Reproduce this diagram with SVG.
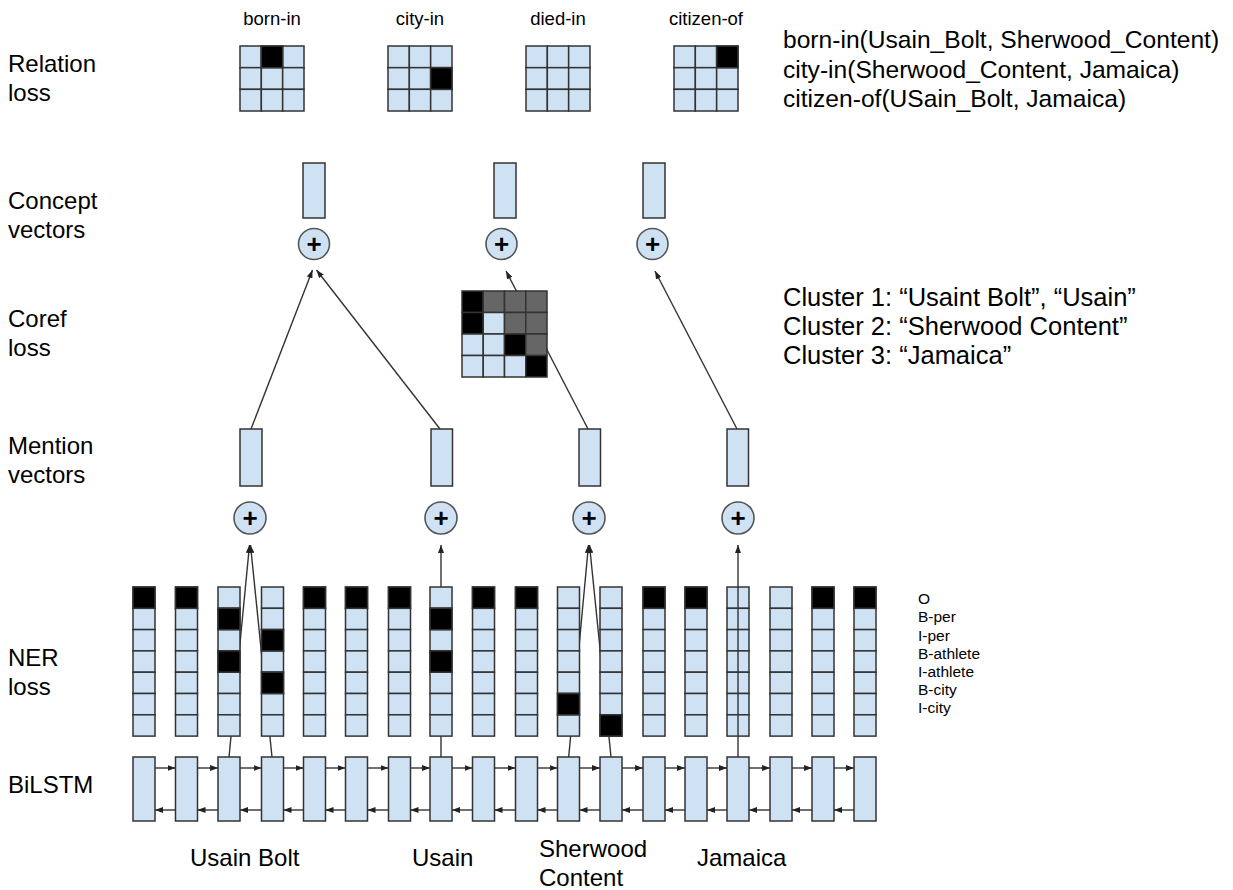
<svg xmlns="http://www.w3.org/2000/svg" xmlns:xlink="http://www.w3.org/1999/xlink" width="1233" height="890" viewBox="0 0 1233 890">
<style>
text{font-family:"Liberation Sans",Arial,sans-serif;fill:#000}
.lbl{font-size:24px}
.rt{font-size:24.6px}
.cl{font-size:25.5px}
.rel{font-size:18.5px;text-anchor:middle}
.tag{font-size:15.5px}
.c{fill:#cfe2f3;stroke:#333;stroke-width:1.5}
.k{fill:#000;stroke:#333;stroke-width:1.5}
.g{fill:#666;stroke:#333;stroke-width:1.5}
.pc{fill:#cfe2f3;stroke:#555;stroke-width:1.6}
.pt{font-size:26px;font-weight:bold;text-anchor:middle}
.ln{stroke:#333;stroke-width:1.4;fill:none}
.ar{stroke:#333;stroke-width:1.4;fill:none;marker-end:url(#ah)}
</style>
<defs>
<marker id="ah" markerUnits="userSpaceOnUse" markerWidth="8" markerHeight="6" refX="8" refY="3" orient="auto">
<path d="M0,0 L8,3 L0,6 z" fill="#222"/>
</marker>
<g id="ner">
<rect class="c" x="0" y="587" width="22" height="21.3"/>
<rect class="c" x="0" y="608.3" width="22" height="21.3"/>
<rect class="c" x="0" y="629.6" width="22" height="21.3"/>
<rect class="c" x="0" y="650.9" width="22" height="21.3"/>
<rect class="c" x="0" y="672.2" width="22" height="21.3"/>
<rect class="c" x="0" y="693.5" width="22" height="21.3"/>
<rect class="c" x="0" y="714.8" width="22" height="21.3"/>
</g>
<g id="g3">
<rect class="c" x="0" y="0" width="21.33" height="21.67"/>
<rect class="c" x="21.33" y="0" width="21.33" height="21.67"/>
<rect class="c" x="42.67" y="0" width="21.33" height="21.67"/>
<rect class="c" x="0" y="21.67" width="21.33" height="21.67"/>
<rect class="c" x="21.33" y="21.67" width="21.33" height="21.67"/>
<rect class="c" x="42.67" y="21.67" width="21.33" height="21.67"/>
<rect class="c" x="0" y="43.33" width="21.33" height="21.67"/>
<rect class="c" x="21.33" y="43.33" width="21.33" height="21.67"/>
<rect class="c" x="42.67" y="43.33" width="21.33" height="21.67"/>
</g>
</defs>
<rect width="1233" height="890" fill="#fff"/>

<g id="side-labels">
<text class="lbl" x="8" y="72">Relation</text>
<text class="lbl" x="8" y="101">loss</text>
<text class="lbl" x="8" y="209">Concept</text>
<text class="lbl" x="8" y="238">vectors</text>
<text class="lbl" x="8" y="327">Coref</text>
<text class="lbl" x="8" y="356">loss</text>
<text class="lbl" x="8" y="454">Mention</text>
<text class="lbl" x="8" y="483">vectors</text>
<text class="lbl" x="8" y="666">NER</text>
<text class="lbl" x="8" y="695">loss</text>
<text class="lbl" x="8" y="793">BiLSTM</text>
</g>

<g id="connectors">
<line class="ar" x1="229" y1="757" x2="249.5" y2="545"/>
<line class="ar" x1="272" y1="757" x2="250.5" y2="545"/>
<line class="ar" x1="441" y1="757" x2="441" y2="545"/>
<line class="ar" x1="568.7" y1="757" x2="588.5" y2="545"/>
<line class="ar" x1="611" y1="757" x2="589.5" y2="545"/>
<line class="ar" x1="251" y1="429" x2="312.5" y2="270"/>
<line class="ar" x1="440" y1="429" x2="316.5" y2="270"/>
<line class="ar" x1="588" y1="429" x2="506" y2="271"/>
<line class="ar" x1="737" y1="429" x2="655" y2="271"/>
<g id="bilstm-arrows">
<line class="ar" x1="155" y1="768" x2="175.5" y2="768"/><line class="ar" x1="175.5" y1="810" x2="155" y2="810"/>
<line class="ar" x1="197.5" y1="768" x2="218" y2="768"/><line class="ar" x1="218" y1="810" x2="197.5" y2="810"/>
<line class="ar" x1="240" y1="768" x2="261.5" y2="768"/><line class="ar" x1="261.5" y1="810" x2="240" y2="810"/>
<line class="ar" x1="283.5" y1="768" x2="303.5" y2="768"/><line class="ar" x1="303.5" y1="810" x2="283.5" y2="810"/>
<line class="ar" x1="325.5" y1="768" x2="345.5" y2="768"/><line class="ar" x1="345.5" y1="810" x2="325.5" y2="810"/>
<line class="ar" x1="367.5" y1="768" x2="388.5" y2="768"/><line class="ar" x1="388.5" y1="810" x2="367.5" y2="810"/>
<line class="ar" x1="410.5" y1="768" x2="430" y2="768"/><line class="ar" x1="430" y1="810" x2="410.5" y2="810"/>
<line class="ar" x1="452" y1="768" x2="472.5" y2="768"/><line class="ar" x1="472.5" y1="810" x2="452" y2="810"/>
<line class="ar" x1="494.5" y1="768" x2="515.5" y2="768"/><line class="ar" x1="515.5" y1="810" x2="494.5" y2="810"/>
<line class="ar" x1="537.5" y1="768" x2="557.5" y2="768"/><line class="ar" x1="557.5" y1="810" x2="537.5" y2="810"/>
<line class="ar" x1="579.5" y1="768" x2="600" y2="768"/><line class="ar" x1="600" y1="810" x2="579.5" y2="810"/>
<line class="ar" x1="622" y1="768" x2="643" y2="768"/><line class="ar" x1="643" y1="810" x2="622" y2="810"/>
<line class="ar" x1="665" y1="768" x2="685" y2="768"/><line class="ar" x1="685" y1="810" x2="665" y2="810"/>
<line class="ar" x1="707" y1="768" x2="727" y2="768"/><line class="ar" x1="727" y1="810" x2="707" y2="810"/>
<line class="ar" x1="749" y1="768" x2="770" y2="768"/><line class="ar" x1="770" y1="810" x2="749" y2="810"/>
<line class="ar" x1="792" y1="768" x2="812" y2="768"/><line class="ar" x1="812" y1="810" x2="792" y2="810"/>
<line class="ar" x1="834" y1="768" x2="854" y2="768"/><line class="ar" x1="854" y1="810" x2="834" y2="810"/>
</g>
</g>

<g id="relation-grids">
<g id="rel-born-in"><text class="rel" x="272" y="25">born-in</text><use xlink:href="#g3" x="240" y="46"/><rect class="k" x="261.33" y="46" width="21.33" height="21.67"/></g>
<g id="rel-city-in"><text class="rel" x="420" y="25">city-in</text><use xlink:href="#g3" x="388" y="46"/><rect class="k" x="430.67" y="67.67" width="21.33" height="21.67"/></g>
<g id="rel-died-in"><text class="rel" x="558" y="25">died-in</text><use xlink:href="#g3" x="526" y="46"/></g>
<g id="rel-citizen-of"><text class="rel" x="706" y="25">citizen-of</text><use xlink:href="#g3" x="674" y="46"/><rect class="k" x="716.67" y="46" width="21.33" height="21.67"/></g>
</g>

<g id="relation-text">
<text class="rt" x="783" y="48">born-in(Usain_Bolt, Sherwood_Content)</text>
<text class="rt" x="783" y="78">city-in(Sherwood_Content, Jamaica)</text>
<text class="rt" x="783" y="107">citizen-of(USain_Bolt, Jamaica)</text>
</g>

<g id="concept-vectors">
<g id="concept-1"><rect class="c" x="303" y="163" width="22" height="55"/><circle class="pc" cx="314" cy="244" r="15.5"/><text class="pt" x="314" y="253">+</text></g>
<g id="concept-2"><rect class="c" x="494" y="163" width="22" height="55"/><circle class="pc" cx="501.5" cy="244" r="15.5"/><text class="pt" x="501.5" y="253">+</text></g>
<g id="concept-3"><rect class="c" x="643" y="163" width="22" height="55"/><circle class="pc" cx="652.5" cy="244" r="15.5"/><text class="pt" x="652.5" y="253">+</text></g>
</g>

<g id="coref-matrix">
<rect class="k" x="462" y="291" width="21.25" height="21.5"/>
<rect class="g" x="483.25" y="291" width="21.25" height="21.5"/>
<rect class="g" x="504.5" y="291" width="21.25" height="21.5"/>
<rect class="g" x="525.75" y="291" width="21.25" height="21.5"/>
<rect class="k" x="462" y="312.5" width="21.25" height="21.5"/>
<rect class="c" x="483.25" y="312.5" width="21.25" height="21.5"/>
<rect class="g" x="504.5" y="312.5" width="21.25" height="21.5"/>
<rect class="g" x="525.75" y="312.5" width="21.25" height="21.5"/>
<rect class="c" x="462" y="334" width="21.25" height="21.5"/>
<rect class="c" x="483.25" y="334" width="21.25" height="21.5"/>
<rect class="k" x="504.5" y="334" width="21.25" height="21.5"/>
<rect class="g" x="525.75" y="334" width="21.25" height="21.5"/>
<rect class="c" x="462" y="355.5" width="21.25" height="21.5"/>
<rect class="c" x="483.25" y="355.5" width="21.25" height="21.5"/>
<rect class="c" x="504.5" y="355.5" width="21.25" height="21.5"/>
<rect class="k" x="525.75" y="355.5" width="21.25" height="21.5"/>
</g>

<g id="clusters">
<text class="cl" x="783" y="306">Cluster 1: “Usaint Bolt”, “Usain”</text>
<text class="cl" x="783" y="335">Cluster 2: “Sherwood Content”</text>
<text class="cl" x="783" y="364">Cluster 3: “Jamaica”</text>
</g>

<g id="mention-vectors">
<g id="mention-1"><rect class="c" x="240" y="429" width="22" height="57"/><circle class="pc" cx="250" cy="518" r="16"/><text class="pt" x="250" y="527">+</text></g>
<g id="mention-2"><rect class="c" x="431" y="429" width="21.5" height="57"/><circle class="pc" cx="441" cy="518" r="16"/><text class="pt" x="441" y="527">+</text></g>
<g id="mention-3"><rect class="c" x="579" y="429" width="21.5" height="57"/><circle class="pc" cx="589" cy="518" r="16"/><text class="pt" x="589" y="527">+</text></g>
<g id="mention-4"><rect class="c" x="727" y="429" width="21.5" height="57"/><circle class="pc" cx="738" cy="518" r="16"/><text class="pt" x="738" y="527">+</text></g>
</g>

<g id="ner-columns">
<use xlink:href="#ner" x="133"/><use xlink:href="#ner" x="175.5"/><use xlink:href="#ner" x="218"/>
<use xlink:href="#ner" x="261.5"/><use xlink:href="#ner" x="303.5"/><use xlink:href="#ner" x="345.5"/>
<use xlink:href="#ner" x="388.5"/><use xlink:href="#ner" x="430"/><use xlink:href="#ner" x="472.5"/>
<use xlink:href="#ner" x="515.5"/><use xlink:href="#ner" x="557.5"/><use xlink:href="#ner" x="600"/>
<use xlink:href="#ner" x="643"/><use xlink:href="#ner" x="685"/><use xlink:href="#ner" x="727"/>
<use xlink:href="#ner" x="770"/><use xlink:href="#ner" x="812"/><use xlink:href="#ner" x="854"/>
<rect class="k" x="133" y="587" width="22" height="21.3"/>
<rect class="k" x="175.5" y="587" width="22" height="21.3"/>
<rect class="k" x="218" y="608.3" width="22" height="21.3"/>
<rect class="k" x="218" y="650.9" width="22" height="21.3"/>
<rect class="k" x="261.5" y="629.6" width="22" height="21.3"/>
<rect class="k" x="261.5" y="672.2" width="22" height="21.3"/>
<rect class="k" x="303.5" y="587" width="22" height="21.3"/>
<rect class="k" x="345.5" y="587" width="22" height="21.3"/>
<rect class="k" x="388.5" y="587" width="22" height="21.3"/>
<rect class="k" x="430" y="608.3" width="22" height="21.3"/>
<rect class="k" x="430" y="650.9" width="22" height="21.3"/>
<rect class="k" x="472.5" y="587" width="22" height="21.3"/>
<rect class="k" x="515.5" y="587" width="22" height="21.3"/>
<rect class="k" x="557.5" y="693.5" width="22" height="21.3"/>
<rect class="k" x="600" y="714.8" width="22" height="21.3"/>
<rect class="k" x="643" y="587" width="22" height="21.3"/>
<rect class="k" x="685" y="587" width="22" height="21.3"/>
<rect class="k" x="812" y="587" width="22" height="21.3"/>
<rect class="k" x="854" y="587" width="22" height="21.3"/>
</g>

<g id="connectors-over">
<line class="ar" x1="738" y1="757" x2="738" y2="545"/>
</g>

<g id="ner-tags">
<text class="tag" x="918" y="604">O</text>
<text class="tag" x="918" y="622">B-per</text>
<text class="tag" x="918" y="641">I-per</text>
<text class="tag" x="918" y="659">B-athlete</text>
<text class="tag" x="918" y="677">I-athlete</text>
<text class="tag" x="918" y="695">B-city</text>
<text class="tag" x="918" y="713">I-city</text>
</g>

<g id="bilstm">
<rect class="c" x="133" y="757" width="22" height="64"/>
<rect class="c" x="175.5" y="757" width="22" height="64"/>
<rect class="c" x="218" y="757" width="22" height="64"/>
<rect class="c" x="261.5" y="757" width="22" height="64"/>
<rect class="c" x="303.5" y="757" width="22" height="64"/>
<rect class="c" x="345.5" y="757" width="22" height="64"/>
<rect class="c" x="388.5" y="757" width="22" height="64"/>
<rect class="c" x="430" y="757" width="22" height="64"/>
<rect class="c" x="472.5" y="757" width="22" height="64"/>
<rect class="c" x="515.5" y="757" width="22" height="64"/>
<rect class="c" x="557.5" y="757" width="22" height="64"/>
<rect class="c" x="600" y="757" width="22" height="64"/>
<rect class="c" x="643" y="757" width="22" height="64"/>
<rect class="c" x="685" y="757" width="22" height="64"/>
<rect class="c" x="727" y="757" width="22" height="64"/>
<rect class="c" x="770" y="757" width="22" height="64"/>
<rect class="c" x="812" y="757" width="22" height="64"/>
<rect class="c" x="854" y="757" width="22" height="64"/>
</g>

<g id="words">
<text class="lbl" x="190" y="866">Usain Bolt</text>
<text class="lbl" x="412" y="866">Usain</text>
<text class="lbl" x="539" y="857">Sherwood</text>
<text class="lbl" x="539" y="886">Content</text>
<text class="lbl" x="697" y="866">Jamaica</text>
</g>
</svg>
